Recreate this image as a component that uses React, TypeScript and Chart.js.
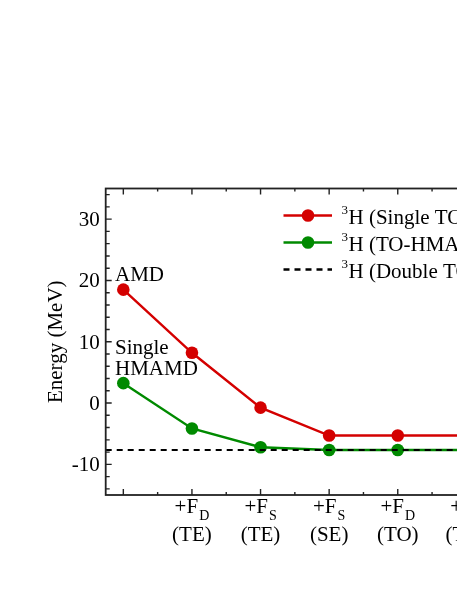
import React, { useEffect, useRef } from "react";
import { Chart, registerables } from "chart.js";

Chart.register(...registerables);

// ---- data ----
const categories = ["AMD", "+F_D (TE)", "+F_S (TE)", "+F_S (SE)", "+F_D (TO)", "+F_S (TO)"];
const tickMain = ["", "+F", "+F", "+F", "+F", "+F"];
const tickSub = ["", "D", "S", "S", "D", "S"];
const tickLine2 = ["", "(TE)", "(TE)", "(SE)", "(TO)", "(TO)"];
const singleTOAMD = [18.5, 8.2, -0.75, -5.3, -5.3, -5.3];
const toHMAMD = [3.25, -4.15, -7.2, -7.65, -7.65, -7.65];
const doubleTOAMD = -7.65;
const yMajorTicks = [-10, 0, 10, 20, 30];
const yMinorStep = 2;
const legendLabels = ["(Single TOAMD)", "(TO-HMAMD)", "(Double TOAMD)"];

const X_MIN = -0.257;
const X_MAX = 5.257;
const Y_MIN = -15;
const Y_MAX = 35;

const RED = "#d40000";
const GREEN = "#008a00";
const AXIS = "#222";
const FONT = "Liberation Serif";

const CW = 520;
const CH = 591;

const framePlugin = {
  id: "frame",
  afterDraw(chart: any) {
    const ctx = chart.ctx as CanvasRenderingContext2D;
    const { left, right, top, bottom } = chart.chartArea;
    const xs = chart.scales.x;
    const ys = chart.scales.y;
    ctx.save();
    ctx.strokeStyle = AXIS;
    ctx.lineWidth = 1.8;
    ctx.strokeRect(left, top, right - left, bottom - top);

    // y ticks (inward), both sides
    ctx.lineWidth = 1.4;
    for (let v = Y_MIN + 1; v <= Y_MAX; v += yMinorStep) {
      const py = ys.getPixelForValue(v);
      const major = yMajorTicks.includes(v);
      const len = major ? 6 : 4;
      ctx.beginPath();
      ctx.moveTo(left, py);
      ctx.lineTo(left + len, py);
      ctx.moveTo(right, py);
      ctx.lineTo(right - len, py);
      ctx.stroke();
    }
    // x ticks (inward), top and bottom
    for (let i = 0; i < categories.length; i++) {
      for (const off of [0, 0.5]) {
        const v = i + off;
        if (v > X_MAX) continue;
        const px = xs.getPixelForValue(v);
        const len = off === 0 ? 6 : 3;
        ctx.beginPath();
        ctx.moveTo(px, bottom);
        ctx.lineTo(px, bottom - len);
        ctx.moveTo(px, top);
        ctx.lineTo(px, top + len);
        ctx.stroke();
      }
    }

    // y tick labels
    ctx.fillStyle = "#000";
    ctx.font = `21px "${FONT}"`;
    ctx.textAlign = "right";
    ctx.textBaseline = "alphabetic";
    for (const v of yMajorTicks) {
      const py = ys.getPixelForValue(v);
      ctx.fillText(String(v), left - 6, py + 7);
    }

    // x tick labels with subscripts
    for (let i = 0; i < categories.length; i++) {
      if (!tickMain[i]) continue;
      const px = xs.getPixelForValue(i);
      ctx.font = `21px "${FONT}"`;
      const w1 = ctx.measureText(tickMain[i]).width;
      ctx.font = `14px "${FONT}"`;
      const w2 = ctx.measureText(tickSub[i]).width;
      const start = px - (w1 + w2 + 1) / 2;
      ctx.textAlign = "left";
      ctx.font = `21px "${FONT}"`;
      ctx.fillText(tickMain[i], start, bottom + 18);
      ctx.font = `14px "${FONT}"`;
      ctx.fillText(tickSub[i], start + w1 + 1, bottom + 25);
      ctx.font = `21px "${FONT}"`;
      ctx.textAlign = "center";
      ctx.fillText(tickLine2[i], px, bottom + 46);
    }

    // y title
    ctx.save();
    ctx.translate(62, (top + bottom) / 2);
    ctx.rotate(-Math.PI / 2);
    ctx.textAlign = "center";
    ctx.textBaseline = "alphabetic";
    ctx.font = `21px "${FONT}"`;
    ctx.fillText("Energy (MeV)", 0, 0);
    ctx.restore();

    // annotations
    ctx.textAlign = "left";
    ctx.font = `21px "${FONT}"`;
    ctx.fillText("AMD", 115, 280.5);
    ctx.fillText("Single", 115, 354);
    ctx.fillText("HMAMD", 115, 375);

    // legend
    const rows = [
      { color: RED, dash: [] as number[], marker: true, y: 215.5 },
      { color: GREEN, dash: [] as number[], marker: true, y: 242.5 },
      { color: "#000", dash: [6, 5], marker: false, y: 269.5 },
    ];
    rows.forEach((r, k) => {
      ctx.save();
      ctx.strokeStyle = r.color;
      ctx.lineWidth = 2.3;
      ctx.setLineDash(r.dash);
      ctx.beginPath();
      ctx.moveTo(283.5, r.y);
      ctx.lineTo(332, r.y);
      ctx.stroke();
      ctx.restore();
      if (r.marker) {
        ctx.fillStyle = r.color;
        ctx.beginPath();
        ctx.arc(308, r.y, 6.3, 0, Math.PI * 2);
        ctx.fill();
      }
      ctx.fillStyle = "#000";
      ctx.textAlign = "left";
      ctx.font = `13px "${FONT}"`;
      ctx.fillText("3", 341.5, r.y - 2);
      ctx.font = `21px "${FONT}"`;
      ctx.fillText("H " + legendLabels[k], 348.5, r.y + 8);
    });

    ctx.restore();
  },
};

export default function App() {
  const ref = useRef<HTMLCanvasElement | null>(null);
  useEffect(() => {
    if (!ref.current) return;
    const mk = (arr: number[]) => arr.map((y, i) => ({ x: i, y }));
    const chart = new Chart(ref.current, {
      type: "line",
      data: {
        datasets: [
          {
            label: "Double TOAMD",
            data: [
              { x: X_MIN, y: doubleTOAMD },
              { x: X_MAX, y: doubleTOAMD },
            ],
            borderColor: "#000",
            borderWidth: 2,
            borderDash: [6, 5],
            pointRadius: 0,
            fill: false,
          },
          {
            label: "Single TOAMD",
            data: mk(singleTOAMD),
            borderColor: RED,
            backgroundColor: RED,
            borderWidth: 2.4,
            pointRadius: 6.3,
            pointBackgroundColor: RED,
            pointBorderWidth: 0,
            fill: false,
          },
          {
            label: "TO-HMAMD",
            data: mk(toHMAMD),
            borderColor: GREEN,
            backgroundColor: GREEN,
            borderWidth: 2.4,
            pointRadius: 6.3,
            pointBackgroundColor: GREEN,
            pointBorderWidth: 0,
            fill: false,
          },
        ],
      },
      options: {
        responsive: false,
        animation: false,
        layout: { padding: { left: 105.7, top: 188.5, right: CW - 484, bottom: CH - 495 } },
        scales: {
          x: { type: "linear", min: X_MIN, max: X_MAX, display: false },
          y: { type: "linear", min: Y_MIN, max: Y_MAX, display: false },
        },
        plugins: { legend: { display: false }, tooltip: { enabled: false } },
      },
      plugins: [framePlugin],
    });
    return () => chart.destroy();
  }, []);
  return (
    <div
      style={{
        position: "fixed",
        left: 0,
        top: 0,
        width: 457,
        height: 591,
        overflow: "hidden",
        background: "#fff",
      }}
    >
      <canvas
        ref={ref}
        width={CW}
        height={CH}
        style={{ position: "absolute", left: 0, top: 0, display: "block", width: CW, height: CH }}
      />
    </div>
  );
}
